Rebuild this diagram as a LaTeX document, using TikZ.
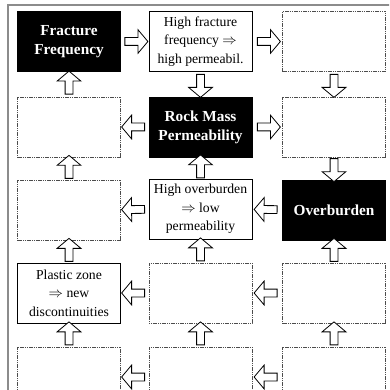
\documentclass[tikz,border=0pt]{standalone}
\usepackage{fontspec}
\setmainfont{Liberation Serif}
\usetikzlibrary{shapes.arrows}

\begin{document}
\begin{tikzpicture}[x=1pt, y=-1pt,
    box/.style={rectangle, draw, line width=0.8pt, minimum width=103pt, minimum height=60pt,
      inner sep=0pt, align=center, font=\fontsize{13.7}{18.5}\selectfont},
    keybox/.style={box, fill=black, text=white, font=\fontsize{15.3}{19}\selectfont\bfseries},
    emptybox/.style={box, draw=black!70, dash pattern=on 1.2pt off 0.6pt},
    barrow/.style={single arrow, draw, fill=white, line width=0.8pt, sloped, allow upside down,
      inner sep=3.5pt, minimum height=23pt,
      single arrow head extend=8pt, single arrow tip angle=100}]
    \useasboundingbox (0,0) rectangle (389,390);
    \clip (0,0) rectangle (389,390);

    % Frame
    \draw[black!45, line width=1.5pt] (8,392) -- (8,5) -- (391,5);

    % Nodes
    \node (ff) [keybox] at (69,41.5) {Fracture\\Frequency};
    \node (hff) [box] at (200.5,41.5) {High fracture\\frequency $\Rightarrow$\\high permeabil.};
    \node (r1c3) [emptybox] at (334,41.5) {};

    \node (r2c1) [emptybox] at (69,127) {};
    \node (rmp) [keybox] at (200.5,127) {Rock Mass\\Permeability};
    \node (r2c3) [emptybox] at (334,127) {};

    \node (r3c1) [emptybox] at (69,210) {};
    \node (hob) [box] at (200.5,209) {High overburden\\$\Rightarrow$ low\\permeability};
    \node (ob) [keybox] at (334,210) {Overburden};

    \node (pz) [box] at (69,293) {Plastic zone\\$\Rightarrow$ new\\discontinuities};
    \node (r4c2) [emptybox] at (200.5,293) {};
    \node (r4c3) [emptybox] at (334,293) {};

    \node (r5c1) [emptybox] at (69,377) {};
    \node (r5c2) [emptybox] at (200.5,377) {};
    \node (r5c3) [emptybox] at (334,377) {};

    % Off-page neighbours
    \coordinate (out1) at (461,41.5);
    \coordinate (out2) at (461,127);
    \coordinate (out3) at (461,210);
    \coordinate (out4) at (458,293);
    \coordinate (out5) at (458,377);

    % Edges
    \path (ff) -- node[barrow] {} (hff);
    \path (hff) -- node[barrow] {} (r1c3);
    \path (r1c3) -- node[barrow] {} (out1);
    \path (r2c1) -- node[barrow] {} (ff);
    \path (hff) -- node[barrow] {} (rmp);
    \path (r1c3) -- node[barrow] {} (r2c3);

    \path (rmp) -- node[barrow] {} (r2c1);
    \path (rmp) -- node[barrow] {} (r2c3);
    \path (r2c3) -- node[barrow] {} (out2);
    \path (r3c1) -- node[barrow] {} (r2c1);
    \path (hob) -- node[barrow] {} (rmp);
    \path (r2c3) -- node[barrow] {} (ob);

    \path (hob) -- node[barrow] {} (r3c1);
    \path (ob) -- node[barrow] {} (hob);
    \path (ob) -- node[barrow] {} (out3);
    \path (pz) -- node[barrow] {} (r3c1);
    \path (r4c2) -- node[barrow] {} (hob);
    \path (r4c3) -- node[barrow] {} (ob);

    \path (r4c2) -- node[barrow] {} (pz);
    \path (r4c3) -- node[barrow] {} (r4c2);
    \path (out4) -- node[barrow] {} (r4c3);
    \path (r5c1) -- node[barrow] {} (pz);
    \path (r5c2) -- node[barrow] {} (r4c2);
    \path (r5c3) -- node[barrow] {} (r4c3);

    \path (r5c2) -- node[barrow] {} (r5c1);
    \path (r5c3) -- node[barrow] {} (r5c2);
    \path (out5) -- node[barrow] {} (r5c3);

\end{tikzpicture}
\end{document}
